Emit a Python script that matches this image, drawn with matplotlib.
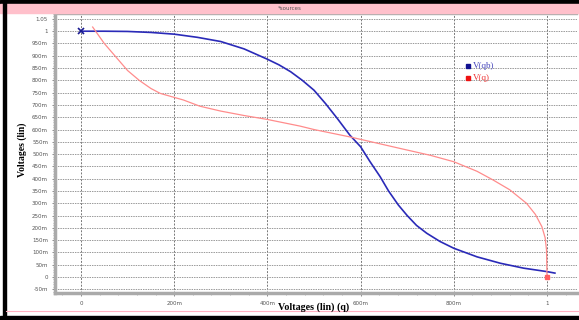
import numpy as np
import matplotlib
matplotlib.use('Agg')
import matplotlib.pyplot as plt
from matplotlib.patches import Rectangle
from matplotlib.lines import Line2D

# sweep values
x_qb = [0, 0.05, 0.1, 0.15, 0.2, 0.25, 0.3, 0.35, 0.4, 0.425, 0.45, 0.475,
        0.5, 0.525, 0.55, 0.577, 0.6, 0.62, 0.642, 0.66, 0.681, 0.7, 0.72,
        0.742, 0.77, 0.8, 0.85, 0.9, 0.95, 1.0, 1.017]
v_qb = [1.0, 1.0, 0.999, 0.995, 0.988, 0.975, 0.958, 0.928, 0.886, 0.863,
        0.835, 0.80, 0.76, 0.705, 0.645, 0.577, 0.53, 0.47, 0.408, 0.35, 0.293,
        0.25, 0.21, 0.178, 0.145, 0.117, 0.082, 0.056, 0.036, 0.022, 0.016]

x_q = [0.025, 0.05, 0.075, 0.1, 0.125, 0.15, 0.17, 0.22, 0.255, 0.3, 0.35, 0.4,
       0.47, 0.5, 0.577, 0.6, 0.685, 0.75, 0.8, 0.85, 0.885, 0.92, 0.956,
       0.975, 0.989, 0.996, 0.999, 1.0]
v_q = [1.017, 0.95, 0.895, 0.84, 0.8, 0.767, 0.747, 0.72, 0.695, 0.675, 0.657,
       0.641, 0.614, 0.60, 0.57, 0.56, 0.523, 0.495, 0.469, 0.43, 0.394, 0.355,
       0.30, 0.255, 0.205, 0.16, 0.11, 0.0]

xticks = [0, 0.2, 0.4, 0.6, 0.8, 1.0]
xticklabels = ['0', '200m', '400m', '600m', '800m', '1']
yticks = [1.05, 1.0, 0.95, 0.9, 0.85, 0.8, 0.75, 0.7, 0.65, 0.6, 0.55, 0.5,
          0.45, 0.4, 0.35, 0.3, 0.25, 0.2, 0.15, 0.1, 0.05, 0.0, -0.05]
yticklabels = ['1.05', '1', '950m', '900m', '850m', '800m', '750m', '700m',
               '650m', '600m', '550m', '500m', '450m', '400m', '350m', '300m',
               '250m', '200m', '150m', '100m', '50m', '0', '-50m']

W, H = 579, 320
fig = plt.figure(figsize=(W / 100, H / 100), dpi=100)

# window frame: black border, pink title bar, pink bottom line
fig.patches.append(Rectangle((0, 1 - 4 / H), 1, 4 / H, transform=fig.transFigure,
                             color='black', zorder=0))
fig.patches.append(Rectangle((0, 1 - 13 / H), 1, 9 / H, transform=fig.transFigure,
                             color='#ffc0cb', zorder=0))
fig.patches.append(Rectangle((0, 0), 1, 4 / H, transform=fig.transFigure,
                             color='black', zorder=0))
fig.patches.append(Rectangle((3 / W, 0), 3 / W, 1, transform=fig.transFigure,
                             color='black', zorder=0))
fig.lines.append(Line2D([6 / W, 1], [1 - 311 / H, 1 - 311 / H],
                        transform=fig.transFigure, color='#ffb0c0', lw=0.8))
fig.text(290 / W, 1 - 9 / H, '*sources', fontsize=4, color='#555555',
         ha='center', va='center')

ax = fig.add_axes([55 / W, 1 - 293 / H, 522 / W, 279 / H])
ax.set_xlim(-0.0558, 1.0644)
ax.set_ylim(-0.065, 1.069)

ax.plot(x_qb, v_qb, color='#2a2ab8', lw=1.2, zorder=3)
ax.plot(x_q, v_q, color='#ff8c8c', lw=0.9, zorder=3)
ax.plot([x_qb[0]], [v_qb[0]], marker='x', color='#1a1a90', ms=4, mew=1.2, zorder=4)
ax.plot([x_q[-1]], [v_q[-1]], marker='s', color='#ff6060', ms=2.5, zorder=4)

ax.set_xticks(xticks)
ax.set_xticklabels(xticklabels)
ax.set_yticks(yticks)
ax.set_yticklabels(yticklabels)
ax.set_xticks(np.arange(-0.04, 1.06, 0.04), minor=True)
ax.set_yticks(np.arange(-0.06, 1.07, 0.01), minor=True)
ax.tick_params(axis='both', labelsize=4, colors='#777777', labelcolor='#555555',
               length=2, width=0.6)
ax.tick_params(axis='both', which='minor', length=1.2, width=0.5, colors='#999999')
ax.tick_params(axis='x', pad=4)
ax.tick_params(axis='y', pad=3)

ax.grid(axis='x', which='major', color='#777777', ls=(0, (2, 1.5)), lw=0.7)
ax.grid(axis='y', which='major', color='#999999', ls=(0, (1.5, 1)), lw=0.7)

for side in ['left', 'bottom']:
    ax.spines[side].set_color('#aaaaaa')
    ax.spines[side].set_linewidth(2.5)
ax.spines['top'].set_color('#aaaaaa')
ax.spines['top'].set_linewidth(1)
ax.spines['right'].set_visible(False)

# legend as coloured squares with labels
ax.plot([0.83], [0.86], marker='s', color='#101090', ms=3.5, ls='none')
ax.text(0.842, 0.86, 'V(qb)', color='#4444bb', fontsize=6.5,
        family='Liberation Serif', va='center')
ax.plot([0.83], [0.81], marker='s', color='#ee1111', ms=3.5, ls='none')
ax.text(0.842, 0.81, 'V(q)', color='#ee3333', fontsize=6.5,
        family='Liberation Serif', va='center')

fig.text(22 / W, 1 - 150 / H, 'Voltages (lin)', rotation=90, fontsize=7,
         fontweight='bold', family='Liberation Serif', ha='center', va='center')
fig.text(314 / W, 1 - 307 / H, 'Voltages (lin) (q)', fontsize=7.2,
         fontweight='bold', family='Liberation Serif', ha='center', va='center')

fig.savefig('out.png', dpi=100)
